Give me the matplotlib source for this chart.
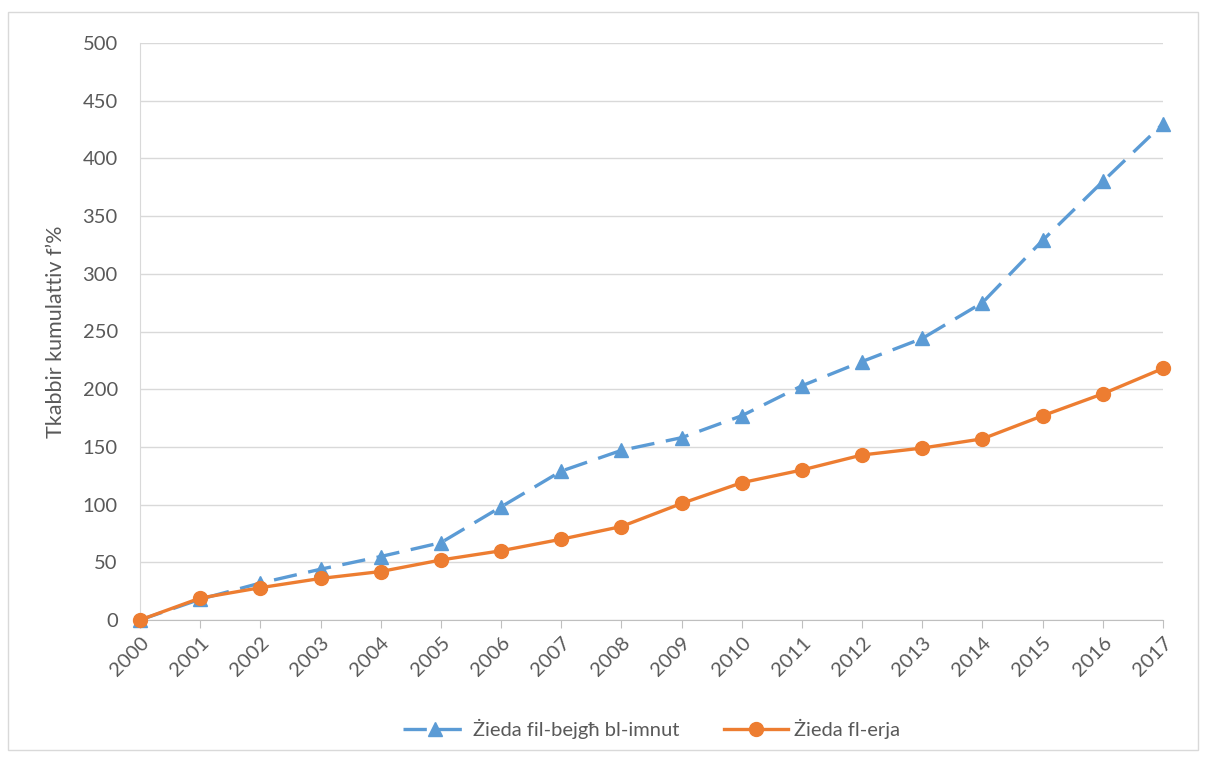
import matplotlib.pyplot as plt
from matplotlib.patches import Rectangle

# Data
years = [str(y) for y in range(2000, 2018)]
bejgh = [0, 18, 32, 44, 55, 67, 98, 129, 147, 158, 177, 203, 224, 244, 275, 329, 380, 430]
erja = [0, 19, 28, 36, 42, 52, 60, 70, 81, 101, 119, 130, 143, 149, 157, 177, 196, 218]
labels = ['Żieda fil-bejgħ bl-imnut', 'Żieda fl-erja']

plt.rcParams['font.family'] = ['Lato', 'DejaVu Sans']
grey = '#595959'

fig = plt.figure(figsize=(12.05, 7.58), dpi=100)
ax = fig.add_axes([140 / 1205, 1 - 620 / 758, (1163 - 140) / 1205, (620 - 43) / 758])

# outer chart border
fig.patches.append(Rectangle((8 / 1205, 8 / 758), 1190 / 1205, 738 / 758,
                             transform=fig.transFigure, fill=False,
                             edgecolor='#d9d9d9', linewidth=1))

x = list(range(len(years)))
ax.plot(x, bejgh, color='#5b9bd5', linewidth=2.4, linestyle=(0, (7, 3.5)),
        marker='^', markersize=10, label=labels[0], clip_on=False, zorder=3)
ax.plot(x, erja, color='#ed7d31', linewidth=2.4, marker='o', markersize=10,
        label=labels[1], clip_on=False, zorder=4)

ax.set_xlim(0, len(years) - 1)
ax.set_ylim(0, 500)
ax.set_yticks(range(0, 501, 50))
ax.set_xticks(x)
ax.set_xticklabels(years, rotation=45, ha='right', rotation_mode='anchor')
ax.tick_params(axis='x', colors=grey, labelsize=14.5, length=6, color='#bfbfbf', pad=4)
ax.tick_params(axis='y', colors=grey, labelsize=14.5, length=0, pad=16)

ax.grid(axis='y', color='#d9d9d9', linewidth=1)
ax.set_axisbelow(True)
for s in ['top', 'right']:
    ax.spines[s].set_visible(False)
ax.spines['left'].set_color('#d9d9d9')
ax.spines['bottom'].set_color('#bfbfbf')

ax.set_ylabel('Tkabbir kumulattiv f\u2019%', color=grey, fontsize=15.5, labelpad=12)

ax.legend(loc='upper center', bbox_to_anchor=(0.5, -0.14), ncol=2, frameon=False,
          fontsize=14.5, labelcolor=grey, handlelength=3.2, handletextpad=0.3,
          columnspacing=2.2)

fig.savefig('out.png', dpi=100)
